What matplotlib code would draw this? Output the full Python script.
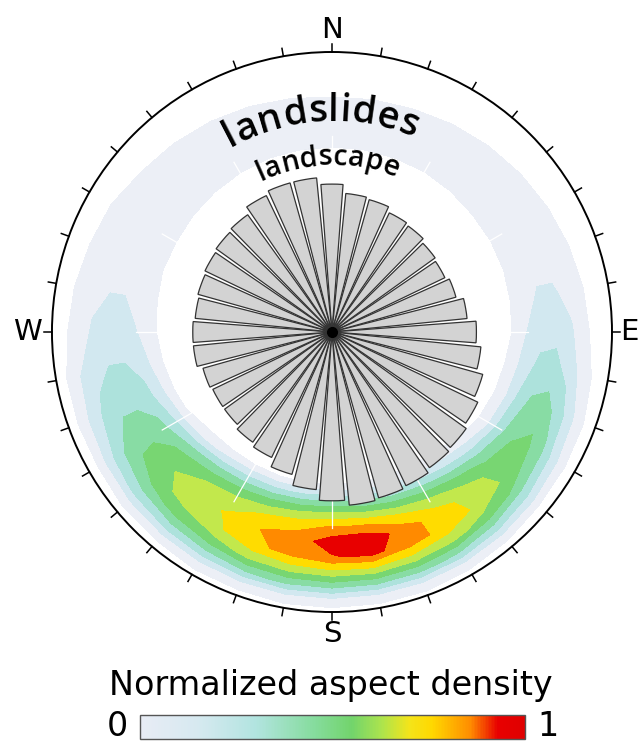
import numpy as np
import matplotlib
matplotlib.use("Agg")
import matplotlib.pyplot as plt
from matplotlib.colors import LinearSegmentedColormap, Normalize
from matplotlib.cm import ScalarMappable
from matplotlib.font_manager import FontProperties

# ---- data ----
# landscape aspect rose (10 deg bins, length relative to longest bin)
bin_angles = np.arange(0, 360, 10)
landscape_rel = [0.85, 0.80, 0.79, 0.76, 0.75, 0.73, 0.72, 0.74, 0.78, 0.83,
                 0.86, 0.90, 0.93, 0.95, 0.96, 0.98, 0.99, 1.00, 0.97, 0.91,
                 0.85, 0.80, 0.78, 0.76, 0.76, 0.77, 0.80, 0.80, 0.79, 0.80,
                 0.81, 0.82, 0.83, 0.87, 0.89, 0.89]

# landslide aspect density: rows = aspect (deg), columns = radial position
dens_aspect = np.arange(0, 360, 10)
dens_radius = [150, 165, 180, 195, 210, 225, 240, 255, 270, 285]
dens = [
    [0, 0, 0.03, 0.09, 0.10, 0.09, 0.03, 0, 0, 0],
    [0, 0, 0.03, 0.09, 0.10, 0.09, 0.035, 0, 0, 0],
    [0, 0, 0.03, 0.09, 0.10, 0.095, 0.04, 0, 0, 0],
    [0, 0, 0.03, 0.09, 0.10, 0.10, 0.05, 0, 0, 0],
    [0, 0, 0.035, 0.09, 0.10, 0.10, 0.06, 0.01, 0, 0],
    [0, 0, 0.04, 0.09, 0.10, 0.10, 0.07, 0.02, 0, 0],
    [0, 0, 0.04, 0.09, 0.11, 0.11, 0.08, 0.03, 0, 0],
    [0, 0, 0.04, 0.10, 0.12, 0.12, 0.09, 0.04, 0, 0],
    [0, 0, 0.045, 0.12, 0.16, 0.16, 0.12, 0.05, 0, 0],
    [0, 0, 0.05, 0.15, 0.21, 0.22, 0.16, 0.06, 0, 0],
    [0, 0, 0.07, 0.20, 0.28, 0.29, 0.22, 0.10, 0.01, 0],
    [0, 0, 0.09, 0.25, 0.37, 0.40, 0.31, 0.16, 0.03, 0],
    [0, 0.01, 0.13, 0.32, 0.44, 0.47, 0.37, 0.20, 0.04, 0],
    [0, 0.05, 0.22, 0.40, 0.51, 0.53, 0.43, 0.25, 0.05, 0],
    [0, 0.10, 0.30, 0.50, 0.61, 0.63, 0.51, 0.30, 0.06, 0],
    [0, 0.14, 0.38, 0.58, 0.70, 0.72, 0.58, 0.34, 0.07, 0],
    [0, 0.18, 0.44, 0.66, 0.80, 0.79, 0.61, 0.36, 0.08, 0],
    [0, 0.22, 0.50, 0.74, 0.92, 0.88, 0.64, 0.37, 0.08, 0],
    [0, 0.27, 0.54, 0.76, 0.90, 0.84, 0.62, 0.37, 0.08, 0],
    [0, 0.26, 0.52, 0.71, 0.80, 0.78, 0.60, 0.36, 0.08, 0],
    [0, 0.24, 0.48, 0.66, 0.75, 0.73, 0.57, 0.34, 0.07, 0],
    [0, 0.22, 0.44, 0.60, 0.66, 0.64, 0.51, 0.31, 0.07, 0],
    [0, 0.18, 0.40, 0.55, 0.60, 0.58, 0.47, 0.29, 0.06, 0],
    [0, 0.12, 0.34, 0.49, 0.54, 0.52, 0.42, 0.26, 0.06, 0],
    [0, 0.06, 0.25, 0.39, 0.43, 0.42, 0.35, 0.22, 0.05, 0],
    [0, 0.02, 0.17, 0.29, 0.33, 0.33, 0.28, 0.18, 0.05, 0],
    [0, 0, 0.11, 0.22, 0.26, 0.26, 0.22, 0.15, 0.045, 0],
    [0, 0, 0.07, 0.15, 0.19, 0.19, 0.16, 0.10, 0.02, 0],
    [0, 0, 0.06, 0.12, 0.15, 0.15, 0.13, 0.08, 0.01, 0],
    [0, 0, 0.05, 0.10, 0.12, 0.12, 0.10, 0.06, 0, 0],
    [0, 0, 0.05, 0.10, 0.11, 0.11, 0.09, 0.05, 0, 0],
    [0, 0, 0.045, 0.10, 0.10, 0.10, 0.08, 0.03, 0, 0],
    [0, 0, 0.04, 0.10, 0.10, 0.10, 0.07, 0.02, 0, 0],
    [0, 0, 0.035, 0.095, 0.10, 0.10, 0.06, 0.01, 0, 0],
    [0, 0, 0.03, 0.09, 0.10, 0.095, 0.05, 0, 0, 0],
    [0, 0, 0.03, 0.09, 0.10, 0.09, 0.04, 0, 0, 0],
]

levels = [0.05, 0.15, 0.25, 0.35, 0.45, 0.55, 0.65, 0.75, 0.85, 1.0]
band_colors = ['#eceff6', '#d2e8f0', '#ade2dc', '#88dca4', '#78d672',
               '#c2e84c', '#ffdc00', '#ff8a00', '#e80000']
cbar_stops = [(0.0, '#e8ecf5'), (0.15, '#d6e9f0'), (0.3, '#b2e4e0'),
              (0.45, '#86dc9e'), (0.55, '#72d46c'), (0.63, '#aee44c'),
              (0.70, '#f4e41a'), (0.76, '#ffd800'), (0.86, '#ff8c00'),
              (0.93, '#e80000'), (1.0, '#e00000')]
cardinal = ['N', 'E', 'S', 'W']
cardinal_deg = [0, 90, 180, 270]
cardinal_r = [302, 297, 302, 305]

ROSE_R = 174   # length of longest rose bin

fig = plt.figure(figsize=(6.44, 7.46), dpi=100)
ax = fig.add_axes([0.0807, 0.1796, 0.8696, 0.7507], projection='polar')
ax.set_theta_zero_location('N')
ax.set_theta_direction(-1)
ax.set_ylim(0, 280)
ax.grid(False)
ax.set_xticks([])
ax.set_yticks([])
ax.spines['polar'].set_linewidth(1.4)

# density ring
th = np.deg2rad(np.append(dens_aspect, 360))
Z = np.array(dens)
Z = np.vstack([Z, Z[:1]])
T, R = np.meshgrid(th, dens_radius, indexing='ij')
ax.contourf(T, R, Z, levels=levels, colors=band_colors, zorder=1)

# faint white radial lines
for a in range(0, 360, 30):
    ax.plot([np.deg2rad(a)] * 2, [0, 196], color='white', lw=0.9, zorder=2)

# landscape rose
ax.bar(np.deg2rad(bin_angles), np.array(landscape_rel) * ROSE_R,
       width=np.deg2rad(8.6), bottom=0, color='#d3d3d3',
       edgecolor='#333333', linewidth=0.9, zorder=3)
ax.plot(0, 0, 'o', color='black', ms=7, zorder=4)

# outer ticks every 10 deg
for a in range(0, 360, 10):
    t = np.deg2rad(a)
    ax.plot([t, t], [280, 288], color='black', lw=1.1, clip_on=False)

for lab, a, rl in zip(cardinal, cardinal_deg, cardinal_r):
    ax.text(np.deg2rad(a), rl, lab, ha='center', va='center',
            fontsize=21, clip_on=False)

# curved labels
rend = fig.canvas.get_renderer()


def arc_text(s, r, center_deg, fs, spacing=1.0):
    fp = FontProperties(family='Open Sans', size=fs, weight='semibold')
    w = [0.0] + [rend.get_text_width_height_descent(s[:i], fp, ismath=False)[0]
                 for i in range(1, len(s) + 1)]
    total = w[-1] * spacing
    for i, ch in enumerate(s):
        mid = (w[i] + w[i + 1]) / 2 * spacing - total / 2
        ang = center_deg + np.rad2deg(mid / r)
        ax.text(np.deg2rad(ang), r, ch, fontproperties=fp, rotation=-ang,
                ha='center', va='baseline', rotation_mode='anchor', zorder=5)


arc_text('landslides', 211, -3, 27.5, spacing=1.03)
arc_text('landscape', 167, -1.5, 20.5)

# colour bar
cmap = LinearSegmentedColormap.from_list('dens', cbar_stops)
cax = fig.add_axes([0.2174, 0.010, 0.598, 0.031])
cb = fig.colorbar(ScalarMappable(norm=Normalize(0, 1), cmap=cmap), cax=cax,
                  orientation='horizontal')
cb.set_ticks([])
cb.outline.set_edgecolor('#555555')
cb.outline.set_linewidth(1.0)

fig.text(0.514, 0.081, 'Normalized aspect density', ha='center', va='center',
         fontsize=24)
fig.text(0.183, 0.026, '0', ha='center', va='center', fontsize=24)
fig.text(0.851, 0.026, '1', ha='center', va='center', fontsize=24)

fig.savefig('out.png', dpi=100)
